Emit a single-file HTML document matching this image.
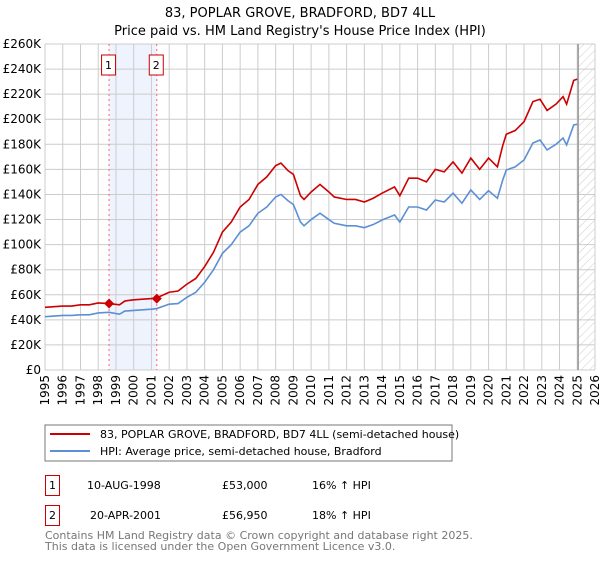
<!DOCTYPE html>
<html><head><meta charset="utf-8"><style>
body{margin:0;background:#fff;font-family:"DejaVu Sans","Liberation Sans",sans-serif;}
svg text{font-family:"DejaVu Sans","Liberation Sans",sans-serif;}
</style></head><body>
<svg id="c" width="600" height="560" xmlns="http://www.w3.org/2000/svg">
<defs><pattern id="hatch" width="6" height="6" patternUnits="userSpaceOnUse" patternTransform="rotate(45)"><line x1="0" y1="0" x2="0" y2="6" stroke="#ccc" stroke-width="1"/></pattern></defs>
<text x="300" y="17" text-anchor="middle" font-size="13">83, POPLAR GROVE, BRADFORD, BD7 4LL</text>
<text x="300" y="35" text-anchor="middle" font-size="13">Price paid vs. HM Land Registry's House Price Index (HPI)</text>
<g id="plot"></g>
<rect x="45" y="425" width="407" height="36" fill="#fff" stroke="#777"/>
<line x1="50" y1="434" x2="90" y2="434" stroke="#cc0000" stroke-width="2"/>
<text x="100" y="438" font-size="11">83, POPLAR GROVE, BRADFORD, BD7 4LL (semi-detached house)</text>
<line x1="50" y1="451" x2="90" y2="451" stroke="#5b8fd6" stroke-width="2"/>
<text x="100" y="455" font-size="11">HPI: Average price, semi-detached house, Bradford</text>
<g>
<rect x="45.5" y="475.5" width="14" height="20" fill="none" stroke="#cc0000"/><text x="52.5" y="489" text-anchor="middle" font-size="11">1</text>
<text x="87" y="489" font-size="11">10-AUG-1998</text><text x="222" y="489" font-size="11">£53,000</text><text x="312" y="489" font-size="11">16% ↑ HPI</text></g>
<g>
<rect x="45.5" y="505.5" width="14" height="20" fill="none" stroke="#cc0000"/><text x="52.5" y="519" text-anchor="middle" font-size="11">2</text>
<text x="90" y="519" font-size="11">20-APR-2001</text><text x="222" y="519" font-size="11">£56,950</text><text x="312" y="519" font-size="11">18% ↑ HPI</text></g>
<text x="45" y="539" font-size="11" fill="#777">Contains HM Land Registry data © Crown copyright and database right 2025.</text>
<text x="45" y="550" font-size="11" fill="#777">This data is licensed under the Open Government Licence v3.0.</text>
</svg>
<script>
const years=[1995,1995.5,1996,1996.5,1997,1997.5,1998,1998.6,1999.2,1999.5,2000,2000.5,2001,2001.3,2002,2002.5,2003,2003.5,2004,2004.5,2005,2005.5,2006,2006.5,2007,2007.5,2008,2008.3,2008.7,2009,2009.4,2009.6,2010,2010.5,2011,2011.3,2012,2012.5,2013,2013.5,2014,2014.7,2015,2015.5,2016,2016.5,2017,2017.5,2018,2018.5,2019,2019.5,2020,2020.5,2020.8,2021,2021.5,2022,2022.5,2022.9,2023.3,2023.8,2024.2,2024.4,2024.8,2025.0];
const hpi=[42.5,43,43.5,43.5,44,44,45.5,46,44.5,47,47.5,48,48.5,49,52.5,53,58,62,70,80,93,100,110,115,125,130,138,140,135,132,118,115,120,125,120,117,115,115,113.5,116,119.6,123.6,118,130,130,127.6,135.6,134,141,133,143.6,136,143,137,151.5,159.5,162,167.5,181,183.4,175.5,180,185,179.5,195.4,196];
const paid=[50,50.5,51,51,52,52,53.5,53,52,55,56,56.5,57,57.5,62,63,68.5,73,82.5,94,110,118,130,136,148,154,163,165,159,156,139,136,142,148,142,138,136,136,134,137,141,146,139,153,153,150,160,158,166,157,169,160,169,162,179,188,191,198,214,216,207,212,218,212,231,232];
const saleYears=[1998.61,2001.3];
const saleValues=[53,56.95];
const yTicks=[0,20,40,60,80,100,120,140,160,180,200,220,240,260];
const xTicks=[1995,1996,1997,1998,1999,2000,2001,2002,2003,2004,2005,2006,2007,2008,2009,2010,2011,2012,2013,2014,2015,2016,2017,2018,2019,2020,2021,2022,2023,2024,2025,2026];
const X0=45,X1=595,Y0=370,Y1=44;
const xs=y=>X0+(y-1995)/(2026-1995)*(X1-X0);
const ys=v=>Y0-v/260*(Y0-Y1);
const NS="http://www.w3.org/2000/svg";
const g=document.getElementById('plot');
function mk(t,a,p){const e=document.createElementNS(NS,t);for(const k in a)e.setAttribute(k,a[k]);(p||g).appendChild(e);return e;}
const band=mk('rect',{x:xs(saleYears[0]),y:Y1,width:xs(saleYears[1])-xs(saleYears[0]),height:Y0-Y1,fill:'#eef3fd'});


const hat=mk('rect',{x:xs(2025.05),y:Y1,width:X1-xs(2025.05),height:Y0-Y1,fill:'url(#hatch)'});


yTicks.forEach(v=>{
 mk('line',{x1:X0,x2:X1,y1:ys(v),y2:ys(v),stroke:'#ccc'});
 const t=mk('text',{x:X0-4,y:ys(v)+4,'text-anchor':'end','font-size':12});
 t.textContent=v===0?'£0':'£'+v+'K';
 
 
});
xTicks.forEach(yr=>{
 mk('line',{x1:xs(yr),x2:xs(yr),y1:Y1,y2:Y0,stroke:'#ccc'});
 const t=mk('text',{x:0,y:0,'text-anchor':'end','font-size':12,transform:`translate(${xs(yr)+4},${Y0+5}) rotate(-90)`});
 t.textContent=yr;
 
 
});
mk('line',{x1:xs(2025.05),x2:xs(2025.05),y1:Y1,y2:Y0,stroke:'#999','stroke-width':1.5});
saleYears.forEach((s,i)=>{
 const l=mk('line',{x1:xs(s),x2:xs(s),y1:Y1,y2:Y0,stroke:'#f66','stroke-dasharray':'2,3'});
 
 
 const b=mk('rect',{x:xs(s)-7.5,y:55,width:14,height:20,fill:'#fff',stroke:'#cc0000'});
 
 
 const t=mk('text',{x:xs(s)-0.5,y:69,'text-anchor':'middle','font-size':11});
 t.textContent=String(i+1);
});
const line=(arr,col,name)=>{const p=mk('polyline',{points:years.map((y,i)=>xs(y)+','+ys(arr[i])).join(' '),fill:'none',stroke:col,'stroke-width':1.6});
 
 };
line(hpi,'#5b8fd6','hpi-line');
line(paid,'#cc0000','property-line');
saleValues.forEach((v,i)=>{
 const x=xs(saleYears[i]),y=ys(v);
 const d=mk('polygon',{points:`${x},${y-5} ${x+5},${y} ${x},${y+5} ${x-5},${y}`,fill:'#cc0000'});
 
 
});
</script>
</body></html>
